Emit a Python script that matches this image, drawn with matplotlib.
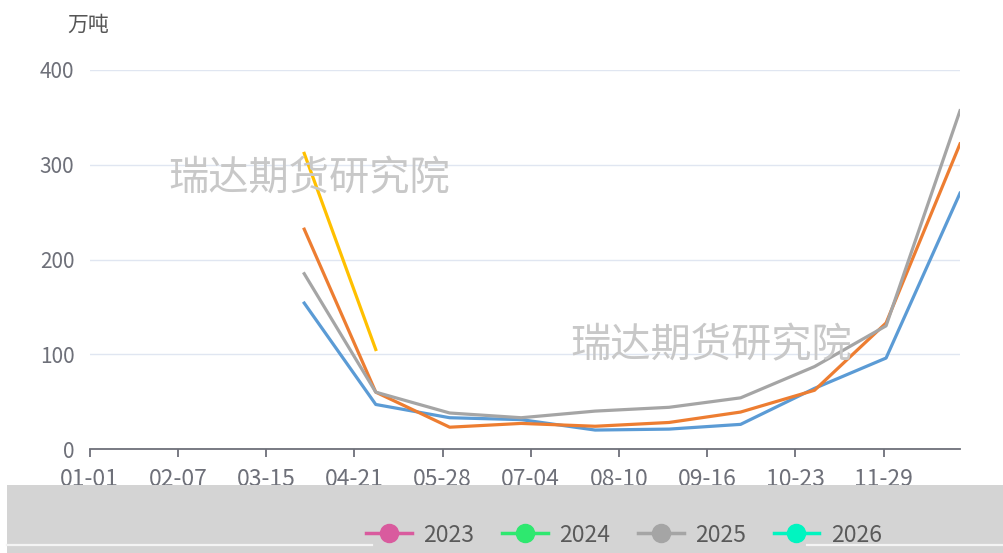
import matplotlib
matplotlib.use("Agg")
import matplotlib.pyplot as plt
import pandas as pd
from matplotlib.lines import Line2D
from matplotlib.patches import Rectangle

plt.rcParams['font.family'] = ['Noto Sans CJK SC', 'DejaVu Sans']

# category axis: every day of a leap year, mm-dd
days = pd.date_range('2024-01-01', '2024-12-31').strftime('%m-%d').tolist()

dates = ["03-31", "04-30", "05-31", "06-30", "07-31", "08-31", "09-30", "10-31", "11-30", "12-31"]
s_blue = [154, 47, 33, 31, 20, 21, 26, 64, 96, 270]
s_orange = [232, 60, 23, 27, 24, 28, 39, 62, 133, 322]
s_gray = [185, 60, 38, 33, 40, 44, 54, 87, 130, 357]
dates_yellow = ["03-31", "04-30"]
s_yellow = [312, 105]

legend_names = ["2023", "2024", "2025", "2026"]
legend_colors = ["#d95b9e", "#2ee86f", "#a5a5a5", "#00f5c0"]

idx = {d: i for i, d in enumerate(days)}
axis_col = '#6e7079'

fig = plt.figure(figsize=(10.04, 5.53), dpi=100)
ax = fig.add_axes([89.6/1004, 1-449/553, (960-89.6)/1004, (449-70)/553])

ax.plot([idx[d] for d in dates], s_blue, color='#5b9bd5', lw=2.3, zorder=3)
ax.plot([idx[d] for d in dates], s_orange, color='#ed7d31', lw=2.3, zorder=3)
ax.plot([idx[d] for d in dates], s_gray, color='#a5a5a5', lw=2.3, zorder=3)
ax.plot([idx[d] for d in dates_yellow], s_yellow, color='#ffc000', lw=2.3, zorder=3)

ax.set_xlim(0, len(days) - 1)
ax.set_ylim(0, 400)
ax.set_yticks([0, 100, 200, 300, 400])
xt = list(range(0, len(days), 37))
ax.set_xticks(xt)
ax.set_xticklabels([days[i] for i in xt])
ax.grid(axis='y', color='#e0e6f1', lw=1)
ax.set_axisbelow(True)
for s in ['top', 'right', 'left']:
    ax.spines[s].set_visible(False)
ax.spines['bottom'].set_color(axis_col)
ax.spines['bottom'].set_linewidth(1.3)
ax.tick_params(axis='y', length=0, pad=11, labelsize=15, labelcolor=axis_col)
ax.tick_params(axis='x', length=6, width=1.3, color=axis_col, pad=8, labelsize=16.5, labelcolor=axis_col)

fig.text(67/1004, 1-25/553, '万吨', fontsize=15, color='#555555', va='center', ha='left')

# watermarks
fig.text(168/1004, 1-179/553, '瑞达期货研究院', fontsize=29, color='#c8c8c8', va='center', ha='left', zorder=1)
fig.text(570/1004, 1-346/553, '瑞达期货研究院', fontsize=29, color='#c8c8c8', va='center', ha='left', zorder=1)

# grey strip covering the bottom
fig.patches.append(Rectangle((7/1004, 0), 1, 1-485/553, transform=fig.transFigure,
                             facecolor='#d4d4d4', edgecolor='none', zorder=10))
fig.lines.append(Line2D([7/1004, 372/1004], [1-545/553]*2, transform=fig.transFigure,
                        color='#f4f4f4', lw=1.6, zorder=11))
fig.lines.append(Line2D([807/1004, 1], [1-545/553]*2, transform=fig.transFigure,
                        color='#f4f4f4', lw=1.6, zorder=11))

handles = [Line2D([0], [0], color=c, lw=2.5, marker='o', markersize=13) for c in legend_colors]
leg = fig.legend(handles, legend_names, loc='center', bbox_to_anchor=(624/1004, 1-535/553),
                 ncol=4, frameon=False, fontsize=16.5, handlelength=2.0, handletextpad=0.5,
                 columnspacing=1.2, labelcolor='#5a5a5a')
leg.set_zorder(12)

fig.savefig('out.png', dpi=100)
